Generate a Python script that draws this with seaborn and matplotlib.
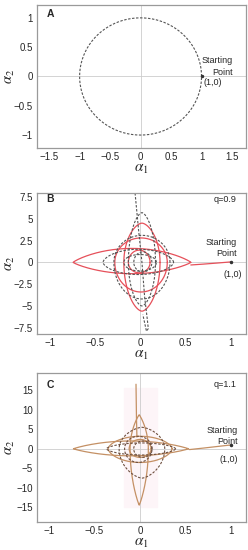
import numpy as np
import pandas as pd
import matplotlib
matplotlib.use("Agg")
import matplotlib.pyplot as plt
import seaborn as sns

# ---- data ----
# panel A: one closed orbit through the starting point
a_radius = [1.0]

# panel B (q=0.9): loops as centre x, half width, top, bottom, tip sharpness (x, y)
b_solid_cx = [-0.09, 0.01, 0.02, -0.01]
b_solid_ax = [0.65, 0.29, 0.20, 0.12]
b_solid_top = [1.6, 2.8, 4.5, 1.4]
b_solid_bot = [1.3, 3.4, 5.6, 1.2]
b_solid_px = [1.0, 1.0, 1.2, 1.0]
b_solid_py = [1.7, 1.0, 1.0, 1.0]
b_dash_cx = [-0.02, 0.02, 0.02, 0.0, 0.03]
b_dash_ax = [0.39, 0.31, 0.15, 0.18, 0.10]
b_dash_top = [1.5, 3.1, 5.7, 0.9, 1.2]
b_dash_bot = [1.4, 4.2, 5.0, 1.0, 1.1]
b_dash_px = [1.0, 1.0, 1.2, 1.0, 1.0]
b_dash_py = [1.2, 1.0, 1.0, 1.0, 1.0]
b_open_x = [-0.06, -0.02, 0.02, 0.05, 0.08, 0.09, 0.07, 0.03]
b_open_y = [8.4, 4.0, 0.0, -4.0, -6.6, -7.6, -7.9, -6.0]
b_tail_x = [0.56, 0.70, 0.85, 1.0]
b_tail_y = [-0.3, -0.2, -0.08, 0.05]

# panel C (q=1.1)
c_solid_cx = [-0.10, 0.0, -0.01, 0.0]
c_solid_ax = [0.63, 0.35, 0.10, 0.12]
c_solid_top = [2.0, 3.2, 8.7, 2.4]
c_solid_bot = [1.8, 3.5, 14.4, 2.2]
c_solid_px = [1.0, 1.0, 1.8, 1.0]
c_solid_py = [1.8, 1.2, 1.0, 1.0]
c_dash_cx = [0.01, 0.02, -0.02, 0.03]
c_dash_ax = [0.38, 0.25, 0.15, 0.10]
c_dash_top = [1.5, 5.5, 3.2, 2.0]
c_dash_bot = [1.6, 7.5, 3.5, 2.2]
c_dash_px = [1.0, 1.3, 1.0, 1.0]
c_dash_py = [1.3, 1.0, 1.0, 1.0]
c_spike_x = [-0.045, -0.04, -0.035]
c_spike_y = [16.5, 8.0, 3.0]
c_tail_x = [0.54, 0.70, 0.85, 1.0]
c_tail_y = [-0.2, 0.2, 0.6, 1.0]

a_xticks = [-1.5, -1, -0.5, 0, 0.5, 1, 1.5]
a_yticks = [-1, -0.5, 0, 0.5, 1]
bc_xticks = [-1, -0.5, 0, 0.5, 1]
b_yticks = [-7.5, -5, -2.5, 0, 2.5, 5, 7.5]
c_yticks = [-15, -10, -5, 0, 5, 10, 15]


def loops(cx, ax_, top, bot, px, py):
    rows = []
    t = np.linspace(0, 2 * np.pi, 361)
    c, s = np.cos(t), np.sin(t)
    for i in range(len(cx)):
        x = cx[i] + ax_[i] * np.sign(c) * np.abs(c) ** px[i]
        ys = np.sign(s) * np.abs(s) ** py[i]
        y = np.where(s >= 0, top[i] * ys, bot[i] * ys)
        rows.append(pd.DataFrame({"x": x, "y": y, "loop": i}))
    return pd.concat(rows, ignore_index=True)


def draw(ax, df, color, dashed):
    ls = (0, (2.2, 1.4)) if dashed else "-"
    sns.lineplot(data=df, x="x", y="y", units="loop", estimator=None, sort=False,
                 color=color, linewidth=0.8 if dashed else 0.9, linestyle=ls,
                 ax=ax, legend=False)


sns.set_theme(style="white")
plt.rcParams["font.family"] = ["Liberation Sans", "DejaVu Sans"]
plt.rcParams["mathtext.fontset"] = "stix"

fig = plt.figure(figsize=(2.48, 5.5), dpi=100)
axA = fig.add_axes([0.149, 0.731, 0.843, 0.260])
axB = fig.add_axes([0.149, 0.393, 0.843, 0.256])
axC = fig.add_axes([0.149, 0.051, 0.843, 0.271])

red = "#e6505a"
brown = "#c49064"
gray = "#555555"
dbrown = "#6e5040"

# A
t = np.linspace(0, 2 * np.pi, 361)
circ = pd.DataFrame({"x": a_radius[0] * np.cos(t), "y": a_radius[0] * np.sin(t), "loop": 0})
draw(axA, circ, gray, True)
axA.plot([1], [0], "o", color="#333333", ms=1.5)

# B
draw(axB, loops(b_solid_cx, b_solid_ax, b_solid_top, b_solid_bot, b_solid_px, b_solid_py), red, False)
draw(axB, pd.DataFrame({"x": b_tail_x, "y": b_tail_y, "loop": 0}), red, False)
draw(axB, loops(b_dash_cx, b_dash_ax, b_dash_top, b_dash_bot, b_dash_px, b_dash_py), gray, True)
draw(axB, pd.DataFrame({"x": b_open_x, "y": b_open_y, "loop": 0}), gray, True)
axB.plot([1], [0.05], "o", color="#333333", ms=1.5)

# C
axC.axvspan(-0.18, 0.18, ymin=0.1, ymax=0.9, color="#fdf5f8", zorder=0)
draw(axC, loops(c_solid_cx, c_solid_ax, c_solid_top, c_solid_bot, c_solid_px, c_solid_py), brown, False)
draw(axC, pd.DataFrame({"x": c_spike_x, "y": c_spike_y, "loop": 0}), brown, False)
draw(axC, pd.DataFrame({"x": c_tail_x, "y": c_tail_y, "loop": 0}), brown, False)
draw(axC, loops(c_dash_cx, c_dash_ax, c_dash_top, c_dash_bot, c_dash_px, c_dash_py), dbrown, True)
axC.plot([1], [1.0], "o", color="#333333", ms=1.5)

setup = [
    (axA, (-1.7, 1.73), (-1.22, 1.22), a_xticks, a_yticks, "A", None, 0.94),
    (axB, (-1.14, 1.17), (-8.2, 7.95), bc_xticks, b_yticks, "B", "q=0.9", 0.955),
    (axC, (-1.13, 1.16), (-18.7, 19.4), bc_xticks, c_yticks, "C", "q=1.1", 0.92),
]
for ax, xl, yl, xt, yt, lab, q, ty in setup:
    ax.set_xlim(*xl)
    ax.set_ylim(*yl)
    ax.set_xticks(xt)
    ax.set_yticks(yt)
    ax.set_xticklabels([f"{v:g}".replace("-", "\u2212") for v in xt])
    ax.set_yticklabels([f"{v:g}".replace("-", "\u2212") for v in yt])
    ax.axhline(0, color="#cccccc", lw=0.6, zorder=0)
    ax.axvline(0, color="#cccccc", lw=0.6, zorder=0)
    ax.tick_params(labelsize=7, length=2, direction="in", color="#999999", pad=3)
    for sp in ax.spines.values():
        sp.set_color("#9a9a9a")
        sp.set_linewidth(0.9)
    ax.set_xlabel(r"$\alpha_1$", fontsize=11, labelpad=0)
    ax.set_ylabel(r"$\alpha_2$", fontsize=10.5)
    ax.yaxis.set_label_coords(-0.095, 0.5)
    ax.text(0.045, ty, lab, transform=ax.transAxes, fontsize=7.5, fontweight="bold",
            ha="left", va="center")
    if q:
        ax.text(0.955, ty, q, transform=ax.transAxes, fontsize=6.5, ha="right", va="center")

axA.text(1.51, 0.17, "Starting\nPoint", fontsize=6.5, ha="right", va="center", linespacing=1.3)
axA.text(1.04, -0.1, "(1,0)", fontsize=6.5, ha="left", va="center")
axB.text(1.07, 1.6, "Starting\nPoint", fontsize=6.5, ha="right", va="center", linespacing=1.3)
axB.text(1.13, -1.35, "(1,0)", fontsize=6.5, ha="right", va="center")
axC.text(1.07, 3.3, "Starting\nPoint", fontsize=6.5, ha="right", va="center", linespacing=1.3)
axC.text(1.07, -2.7, "(1,0)", fontsize=6.5, ha="right", va="center")

fig.savefig("out.png", dpi=100)
